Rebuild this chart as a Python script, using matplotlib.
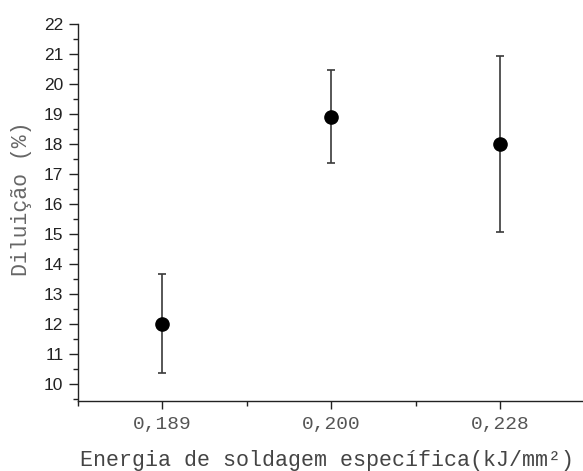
import matplotlib
matplotlib.use("Agg")
import matplotlib.pyplot as plt
from matplotlib.ticker import MultipleLocator, FixedLocator

categories = ["0,189", "0,200", "0,228"]
means = [12.0, 18.9, 18.0]
errors = [1.65, 1.55, 2.94]
yticks = list(range(10, 23))

fig = plt.figure(figsize=(5.83, 4.71), dpi=100)
ax = fig.add_axes([78/583, 70/471, 505/583, 377/471])

x = list(range(1, len(categories) + 1))
ax.errorbar(x, means, yerr=errors, fmt="o", color="black", ms=9.5,
            ecolor="#3a3a3a", elinewidth=1.2, capsize=3.0, capthick=1.2)

ax.set_xlim(0.5, 3.49)
ax.set_ylim(9.433, 22)
ax.spines["top"].set_visible(False)
ax.spines["right"].set_visible(False)
for s in ("left", "bottom"):
    ax.spines[s].set_linewidth(1.0)
    ax.spines[s].set_color("#222222")

ax.set_yticks(yticks)
ax.yaxis.set_minor_locator(MultipleLocator(0.5))
ax.set_xticks(x)
ax.set_xticklabels(categories, family="Liberation Mono", fontsize=14, color="#555555")
ax.xaxis.set_minor_locator(FixedLocator([0.5, 1.5, 2.5]))
ax.tick_params(axis="y", which="major", length=6.5, width=1, labelsize=12.5,
               colors="#222222", pad=4)
ax.tick_params(axis="y", which="minor", length=3.6, width=1, colors="#222222")
ax.tick_params(axis="x", which="major", length=5.5, width=1, pad=5, colors="#222222")
ax.tick_params(axis="x", which="minor", length=3.6, width=1, colors="#222222")
for lab in ax.get_yticklabels():
    lab.set_family("Liberation Sans")
    lab.set_color("#222222")
for lab in ax.get_xticklabels():
    lab.set_color("#555555")

ax.set_ylabel("Diluição (%)", family="Liberation Mono", fontsize=15.5, color="#666666")
ax.yaxis.set_label_coords(-0.091, 0.536)
xl = ax.set_xlabel("Energia de soldagem específica(kJ/mm²)",
                   family="Liberation Mono", fontsize=15.6, color="#444444", labelpad=12.5)
xl.set_x(0.494)

fig.savefig("out.png", dpi=100)
